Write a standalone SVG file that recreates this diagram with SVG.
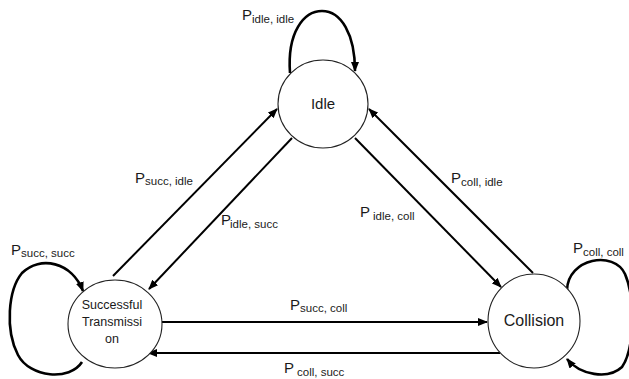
<svg xmlns="http://www.w3.org/2000/svg" width="629" height="379" viewBox="0 0 629 379">
<style>
.node{fill:#fff;stroke:#222;stroke-width:1.1}
.ntext{font-family:"Liberation Sans",Arial,sans-serif;fill:#1a1a1a;text-anchor:middle}
.edge{fill:none;stroke:#000;stroke-width:2;marker-end:url(#arr)}
.loop{fill:none;stroke:#000;stroke-width:2.6;marker-end:url(#arr)}
.lbl{font-family:"Liberation Sans",Arial,sans-serif;fill:#1a1a1a}
.P{font-size:15px}
.sub{font-size:11.5px}
</style>
<defs>
<marker id="arr" viewBox="0 0 10 8" refX="9" refY="4" markerWidth="10" markerHeight="8" markerUnits="userSpaceOnUse" orient="auto">
<path d="M0,0 L10,4 L0,8 z" fill="#000"/>
</marker>
</defs>
<rect width="629" height="379" fill="#fff"/>
<g id="connectors">
<line class="edge" x1="113" y1="276" x2="277" y2="109"/>
<line class="edge" x1="292" y1="138" x2="149" y2="289"/>
<line class="edge" x1="355" y1="138" x2="501" y2="287"/>
<line class="edge" x1="533" y1="273" x2="369" y2="109"/>
<line class="edge" x1="162" y1="322" x2="487" y2="322"/>
<line class="edge" x1="500" y1="353" x2="148" y2="353"/>
<path class="loop" d="M290,73 C287,32 304,11 322,11 C341,11 355,34 355,71"/>
<path class="loop" d="M82,362 C70,381 30,378 18,355 C5,330 8,290 22,273 C40,255 72,262 83,291"/>
<path class="loop" d="M567,290 C568,258 614,250 625,274 C636,300 634,350 622,367 C608,380 580,375 567,359"/>
</g>
<g id="node-idle">
<ellipse class="node" cx="323" cy="104" rx="45" ry="44"/>
<text class="ntext" x="323" y="109" font-size="15">Idle</text>
</g>
<g id="node-succ">
<ellipse class="node" cx="115" cy="324" rx="47" ry="44"/>
<text class="ntext" font-size="12.5"><tspan x="112" y="309">Successful</tspan><tspan x="112" y="326">Transmissi</tspan><tspan x="112" y="343">on</tspan></text>
</g>
<g id="node-coll">
<ellipse class="node" cx="534" cy="321" rx="46" ry="47"/>
<text class="ntext" x="534" y="326" font-size="16">Collision</text>
</g>
<g id="labels">
<text class="lbl"><tspan class="P" x="242" y="20">P</tspan><tspan class="sub" x="252" y="23">idle, idle</tspan></text>
<text class="lbl"><tspan class="P" x="11" y="255">P</tspan><tspan class="sub" x="21" y="257">succ, succ</tspan></text>
<text class="lbl"><tspan class="P" x="135" y="183">P</tspan><tspan class="sub" x="145" y="185">succ, idle</tspan></text>
<text class="lbl"><tspan class="P" x="221" y="225">P</tspan><tspan class="sub" x="230" y="228">idle, succ</tspan></text>
<text class="lbl"><tspan class="P" x="360" y="217">P</tspan><tspan class="sub" x="373" y="220">idle, coll</tspan></text>
<text class="lbl"><tspan class="P" x="451" y="183">P</tspan><tspan class="sub" x="461" y="186">coll, idle</tspan></text>
<text class="lbl"><tspan class="P" x="573" y="253">P</tspan><tspan class="sub" x="583" y="256">coll, coll</tspan></text>
<text class="lbl"><tspan class="P" x="290" y="310">P</tspan><tspan class="sub" x="300" y="312">succ, coll</tspan></text>
<text class="lbl"><tspan class="P" x="284" y="373">P</tspan><tspan class="sub" x="297" y="376">coll, succ</tspan></text>
</g>
</svg>
